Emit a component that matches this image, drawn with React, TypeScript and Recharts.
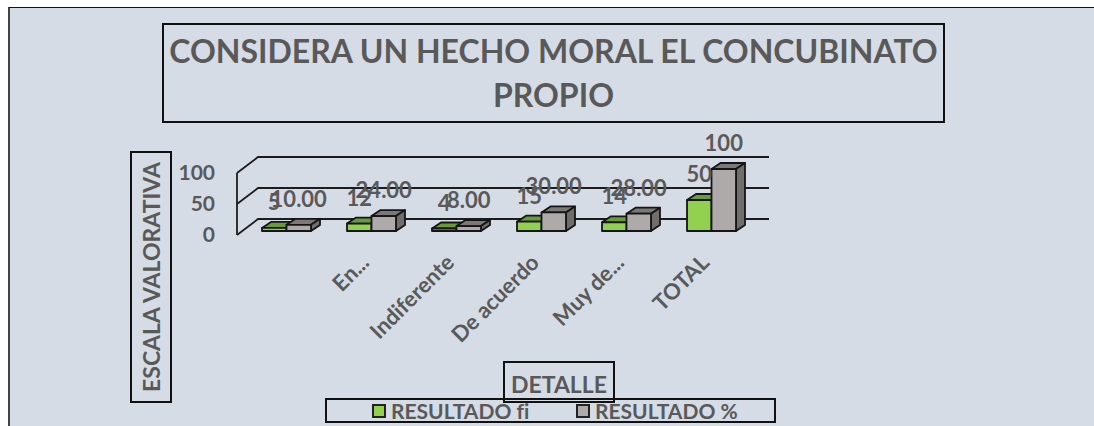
import React from "react";
import { BarChart, Bar, XAxis, YAxis, CartesianGrid, Legend, LabelList } from "recharts";

const categories = ["", "En...", "Indiferente", "De acuerdo", "Muy de...", "TOTAL"];
const resultadoFi = [5, 12, 4, 15, 14, 50];
const resultadoPct = [10, 24, 8, 30, 28, 100];
const yTicks = [0, 50, 100];

const rows = categories.map((detalle, i) => ({ detalle, fi: resultadoFi[i], pct: resultadoPct[i] }));

const FONT = "Lato, 'Open Sans', sans-serif";
const TEXT = "#595959";
const LINE = "#1c1c1c";
const DX = 9;
const DY = 6;

const makeBar = (front: string, top: string, side: string) => (props: any) => {
  const { x, y, width, height } = props;
  const common = { stroke: "#151515", strokeWidth: 1.8, strokeLinejoin: "round" as const };
  return (
    <g>
      <polygon points={`${x},${y} ${x + DX},${y - DY} ${x + width + DX},${y - DY} ${x + width},${y}`} fill={top} {...common} />
      <polygon points={`${x + width},${y} ${x + width + DX},${y - DY} ${x + width + DX},${y + height - DY} ${x + width},${y + height}`} fill={side} {...common} />
      <rect x={x} y={y} width={width} height={height} fill={front} {...common} />
    </g>
  );
};

const wallLine = (p: any) => {
  const { x1, x2, y1 } = p;
  return (
    <path
      key={`h-${y1}`}
      d={`M${x1 - 7},${y1 + 4} L${x1 + 14},${y1 - 12} L${x2 + 15},${y1 - 12}`}
      fill="none"
      stroke={LINE}
      strokeWidth={1.8}
    />
  );
};

const frontEdge = (p: any) => {
  const { x1, y1, y2 } = p;
  return <line key="v" x1={x1 - 7} x2={x1 - 7} y1={y1 + 4} y2={y2 + 4} stroke={LINE} strokeWidth={1.8} />;
};

const YTick = (p: any) => (
  <text x={215} y={p.y + 4} dy={7} textAnchor="end" fontFamily={FONT} fontWeight={700} fontSize={21} fill={TEXT}>
    {p.payload.value}
  </text>
);

const XTick = (p: any) => {
  const ax = p.x - 1;
  const ay = 264;
  return (
    <text
      x={ax}
      y={ay}
      textAnchor="end"
      transform={`rotate(-45 ${ax} ${ay})`}
      fontFamily={FONT}
      fontWeight={700}
      fontSize={22}
      fill={TEXT}
    >
      {p.payload.value}
    </text>
  );
};

const LegendBox = (p: any) => (
  <div style={{ position: "relative", width: 451, height: 25, boxSizing: "border-box", border: "2px solid #111", fontFamily: FONT, fontWeight: 700, fontSize: 21, color: TEXT, fontVariantLigatures: "none" }}>
    {(p.payload || []).map((e: any, i: number) => (
      <div key={e.value} style={{ position: "absolute", left: i === 0 ? 45 : 249, top: 0, height: 21, display: "flex", alignItems: "center", whiteSpace: "nowrap" }}>
        <span style={{ display: "inline-block", width: 14, height: 14, boxSizing: "border-box", background: e.color, border: "2px solid #222", marginRight: 5 }} />
        {e.value}
      </div>
    ))}
  </div>
);

const boxStyle: React.CSSProperties = {
  position: "absolute",
  boxSizing: "border-box",
  border: "2px solid #111",
  display: "flex",
  alignItems: "center",
  justifyContent: "center",
  textAlign: "center",
  fontFamily: FONT,
  fontWeight: 700,
  color: TEXT,
  whiteSpace: "nowrap",
};

export default function App() {
  return (
    <div style={{ position: "fixed", left: 0, top: 0, width: 1094, height: 426, background: "#fff", overflow: "hidden" }}>
      <div style={{ position: "absolute", left: 8, top: 7, width: 1086, height: 419, boxSizing: "border-box", background: "#D6DCE5", borderLeft: "2px solid #444", borderTop: "1px solid #111" }} />
      <div style={{ ...boxStyle, left: 162, top: 23, width: 783, height: 100, fontSize: 32, lineHeight: "44px" }}>
        <span>
          CONSIDERA UN HECHO MORAL EL CONCUBINATO
          <br />
          PROPIO
        </span>
      </div>
      <div style={{ ...boxStyle, left: 130, top: 151, width: 42, height: 252 }}>
        <span style={{ transform: "rotate(-90deg)", whiteSpace: "nowrap", fontSize: 23 }}>ESCALA VALORATIVA</span>
      </div>
      <div style={{ ...boxStyle, left: 503, top: 361, width: 112, height: 42, fontSize: 23, paddingTop: 3 }}>DETALLE</div>
      <div style={{ position: "absolute", left: 0, top: 0 }}>
        <BarChart
          width={1094}
          height={426}
          data={rows}
          barGap={0}
          barSize={24.5}
          margin={{ top: 169, left: 144, right: 340, bottom: 70 }}
          style={{ background: "transparent" }}
        >
          <CartesianGrid
            horizontal={wallLine}
            vertical={frontEdge}
            verticalCoordinatesGenerator={({ offset }: any) => [offset.left]}
            stroke={LINE}
          />
          <XAxis dataKey="detalle" height={100} axisLine={false} tickLine={false} tick={XTick} interval={0} />
          <YAxis width={100} domain={[0, 100]} ticks={yTicks} interval={0} axisLine={false} tickLine={false} tick={YTick} />
          <Legend
            verticalAlign="bottom"
            itemSorter="dataKey"
            content={LegendBox}
            wrapperStyle={{ position: "absolute", left: 325, top: 398, width: 451, height: 25, bottom: "auto" }}
          />
          <Bar dataKey="fi" name="RESULTADO fi" fill="#92D050" shape={makeBar("#92D050", "#6B9B36", "#6B9B36")} isAnimationActive={false}>
            <LabelList dataKey="fi" position="top" offset={18} fontFamily={FONT} fontWeight={700} fontSize={22} fill={TEXT} />
          </Bar>
          <Bar dataKey="pct" name="RESULTADO %" fill="#AEAAAA" shape={makeBar("#AEAAAA", "#7B7878", "#706D6D")} isAnimationActive={false}>
            <LabelList
              dataKey="pct"
              position="top"
              offset={18}
              fontFamily={FONT}
              fontWeight={700}
              fontSize={22}
              fill={TEXT}
              formatter={(v: number) => (v === 100 ? "100" : v.toFixed(2))}
            />
          </Bar>
        </BarChart>
      </div>
    </div>
  );
}
